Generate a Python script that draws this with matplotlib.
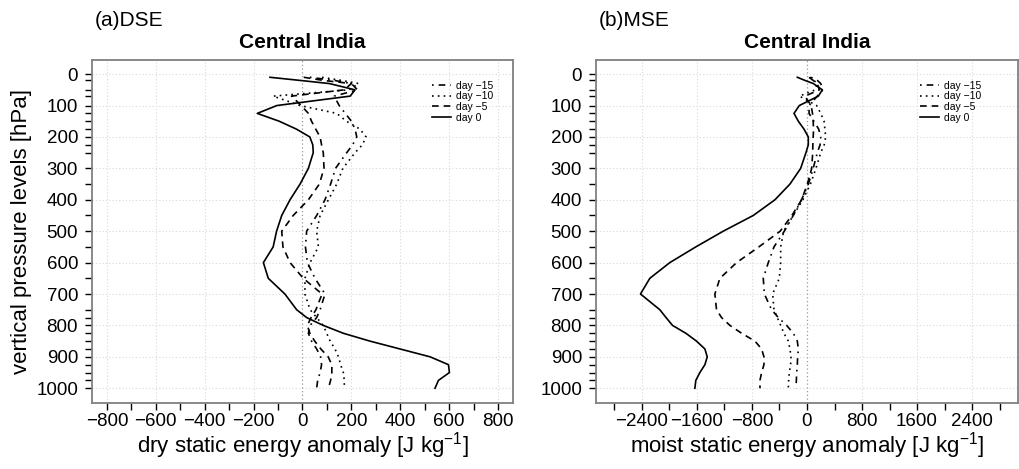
import matplotlib
matplotlib.use("Agg")
import matplotlib.pyplot as plt
from matplotlib.ticker import FixedLocator, NullFormatter

plt.rcParams['font.family'] = ['Liberation Sans', 'DejaVu Sans']
plt.rcParams['mathtext.fontset'] = 'custom'
plt.rcParams['mathtext.rm'] = 'Liberation Sans'
plt.rcParams['mathtext.it'] = 'Liberation Sans:italic'

levels = [10, 20, 30, 50, 70, 100, 125, 150, 175, 200, 225, 250, 300, 350, 400, 450,
          500, 550, 600, 650, 700, 750, 775, 800, 825, 850, 875, 900, 925, 950, 975, 1000]

# Dry static energy anomaly [J/kg]
dse_day15 = [30, 130, 200, 225, 130, 150, 175, 200, 215, 222, 205, 181, 135, 115, 92, 58,
             17, 12, 20, 51, 92, 72, 58, 31, 24, 37, 58, 74, 78, 72, 62, 58]
dse_day10 = [80, 160, 230, 190, -120, -10, 140, 180, 235, 260, 245, 215, 165, 140, 106, 72,
             58, 65, 31, 10, 10, 31, 58, 85, 99, 113, 133, 147, 156, 167, 171, 171]
dse_day5 = [5, 85, 200, 170, -45, -5, 24, 37, 54, 72, 78, 85, 88, 69, 24, -38,
            -85, -80, -51, 3, 80, 55, 35, 20, 30, 50, 75, 105, 120, 120, 115, 106]
dse_day0 = [-133, -10, 110, 215, 195, -105, -185, -95, -25, 30, 42, 44, 24, -10, -51, -85,
            -106, -120, -160, -140, -72, -24, 17, 85, 167, 276, 399, 522, 597, 601, 556, 542]

# Moist static energy anomaly [J/kg]
mse_day15 = [60, 150, 200, 230, 150, 30, 30, 100, 170, 200, 190, 150, 90, 20, -80, -200,
             -330, -480, -563, -636, -620, -515, -417, -296, -199, -141, -126, -136, -141, -150, -155, -160]
mse_day10 = [40, 100, 150, 120, -110, 140, 200, 248, 260, 272, 250, 200, 130, 50, -60, -200,
             -340, -383, -383, -403, -500, -480, -432, -383, -335, -272, -248, -233, -238, -257, -267, -272]
mse_day5 = [30, 90, 150, 180, -30, 60, 80, 90, 95, 90, 85, 83, 68, 5, -78, -220,
            -390, -700, -1024, -1267, -1340, -1316, -1243, -1121, -951, -757, -660, -626, -626, -660, -684, -684]
mse_day0 = [-141, -30, 92, 223, 165, -112, -189, -126, -44, 19, 19, -15, -92, -248, -466, -782,
            -1218, -1617, -1995, -2286, -2422, -2141, -2050, -1956, -1762, -1607, -1485, -1451, -1485, -1558, -1617, -1631]

series_labels = ["day \u221215", "day \u221210", "day \u22125", "day 0"]
yticks = list(range(0, 1001, 100))
level_ticks = [p for p in levels if p not in (10, 30)]

W, H = 1020, 469
fig = plt.figure(figsize=(W / 100, H / 100), dpi=100)

styles = [dict(linestyle=(0, (1, 3, 4, 3))),
          dict(linestyle=(0, (1, 2.5))),
          dict(linestyle=(0, (4, 3))),
          dict(linestyle='-')]


def make_panel(rect, data, xlim, major, minor, gridstep, xlabel, tag, legx):
    ax = fig.add_axes(rect)
    for vals, lab, st in zip(data, series_labels, styles):
        ax.plot(vals, levels, color='black', lw=1.2, label=lab, **st)
    ax.set_xlim(*xlim)
    ax.set_ylim(1047, -45)
    gx = []
    k = 1
    while k * gridstep < xlim[1]:
        gx += [k * gridstep, -k * gridstep]
        k += 1
    for v in gx:
        ax.axvline(v, color='#d9d9d9', lw=0.8, ls=(0, (1, 2)), zorder=0)
    for v in yticks:
        ax.axhline(v, color='#d9d9d9', lw=0.8, ls=(0, (1, 2)), zorder=0)
    ax.axvline(0, color='#999999', lw=0.9, ls=(0, (1, 2)), zorder=0)
    ax.xaxis.set_major_locator(FixedLocator(major))
    ax.xaxis.set_minor_locator(FixedLocator(minor))
    ax.xaxis.set_minor_formatter(NullFormatter())
    ax.yaxis.set_major_locator(FixedLocator(yticks))
    ax.yaxis.set_minor_locator(FixedLocator(level_ticks))
    ax.yaxis.set_minor_formatter(NullFormatter())
    ax.tick_params(which='both', direction='out', length=5, width=1, color='black',
                   labelsize=13.5, top=False, right=False)
    ax.tick_params(axis='x', which='both', pad=2)
    ax.tick_params(axis='y', which='both', pad=5)
    for s in ax.spines.values():
        s.set_color('#808080')
        s.set_linewidth(1.3)
    ax.set_xlabel(xlabel, fontsize=16, labelpad=0)
    ax.legend(loc='upper left', bbox_to_anchor=(legx, 0.94), frameon=False,
              fontsize=7.5, handlelength=1.8, handletextpad=0.5,
              labelspacing=0.07, borderaxespad=0, borderpad=0)
    cx = rect[0] + rect[2] / 2
    fig.text(cx, 1 - 43 / H, "Central India", ha='center', va='center',
             fontsize=15, fontweight='bold')
    fig.text(rect[0] + 3 / W, 1 - 20.5 / H, tag, ha='left', va='center', fontsize=15)
    return ax


bottom = 1 - 403 / H
height = (403 - 60) / H
ax1 = make_panel([92 / W, bottom, (513 - 92) / W, height],
                 [dse_day15, dse_day10, dse_day5, dse_day0],
                 (-861, 861), list(range(-800, 801, 200)), list(range(-700, 801, 200)),
                 200, r"dry static energy anomaly [J kg$^{\mathregular{-1}}$]", "(a)DSE", 0.808)
ax1.set_ylabel("vertical pressure levels [hPa]", fontsize=16, labelpad=3)

ax2 = make_panel([596 / W, bottom, (1018 - 596) / W, height],
                 [mse_day15, mse_day10, mse_day5, mse_day0],
                 (-3069, 3069), list(range(-2400, 2401, 800)), list(range(-2800, 2801, 800)),
                 800, r"moist static energy anomaly [J kg$^{\mathregular{-1}}$]", "(b)MSE", 0.768)

fig.savefig("out.png", dpi=100)
